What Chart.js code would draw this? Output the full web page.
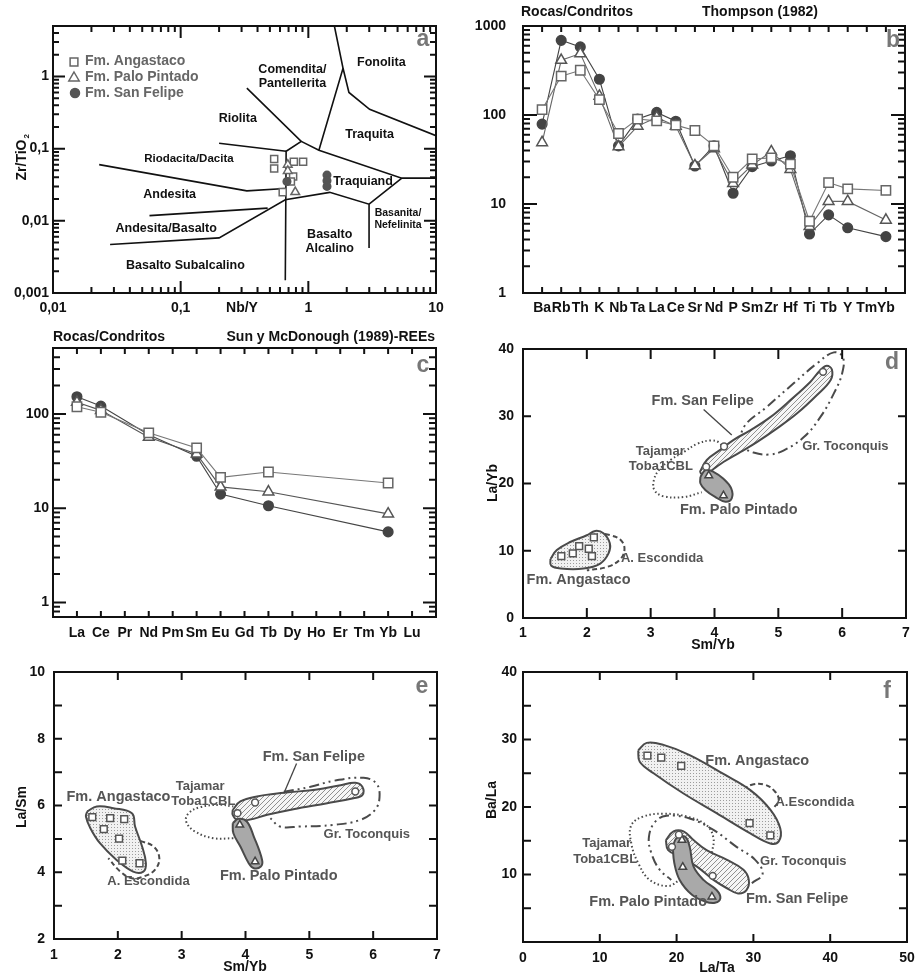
<!DOCTYPE html>
<html>
<head>
<meta charset="utf-8">
<script src="https://cdn.jsdelivr.net/npm/chart.js@4.4.1/dist/chart.umd.min.js"></script>
<style>
  body { margin: 0; background: #fff; width: 924px; height: 979px; position: relative; overflow: hidden; }
  canvas { position: absolute; }
</style>
</head>
<body>
<canvas id="pa" width="462" height="320" style="left:0;top:0"></canvas>
<canvas id="pb" width="462" height="320" style="left:462px;top:0"></canvas>
<canvas id="pc" width="462" height="330" style="left:0;top:320px"></canvas>
<canvas id="pd" width="462" height="336" style="left:462px;top:320px"></canvas>
<canvas id="pe" width="462" height="329" style="left:0;top:650px"></canvas>
<canvas id="pf" width="462" height="329" style="left:462px;top:650px"></canvas>
<script>
// geochem panels a-f

const FONT = '"Liberation Sans", Arial, Helvetica, sans-serif';

// ---- a: Zr/TiO2 vs Nb/Y ----
const aAngNbY = [0.54, 0.54, 0.77, 0.91, 0.76, 0.73, 0.63];
const aAngZrTi = [0.072, 0.053, 0.066, 0.066, 0.041, 0.035, 0.025];
const aPalNbY = [0.69, 0.69, 0.79];
const aPalZrTi = [0.060, 0.049, 0.025];
const aSanNbY = [0.68, 1.40, 1.40, 1.40];
const aSanZrTi = [0.035, 0.043, 0.036, 0.030];
// field boundaries
const aLine1 = [[0.33, 0.69], [0.88, 0.126], [0.67, 0.092], [0.66, 0.0015]];
const aLine2 = [[0.20, 0.119], [0.67, 0.092]];
const aLine3 = [[0.023, 0.060], [0.33, 0.026], [0.66, 0.028]];
const aLine4 = [[0.88, 0.126], [1.21, 0.095], [5.4, 0.039], [10, 0.039]];
const aLine5 = [[1.21, 0.095], [1.87, 1.30], [1.60, 5]];
const aLine6 = [[1.87, 1.30], [2.08, 0.60], [3.02, 0.35], [10, 0.151]];
const aLine7 = [[5.4, 0.039], [2.99, 0.017], [1.47, 0.0248], [0.66, 0.0196], [0.20, 0.0058], [0.028, 0.0047]];
const aLine8 = [[0.057, 0.0118], [0.48, 0.0150]];
const aLine9 = [[2.99, 0.017], [2.99, 0.0042]];

// ---- b: Thompson (1982) spider ----
const bElements = ['Ba', 'Rb', 'Th', 'K', 'Nb', 'Ta', 'La', 'Ce', 'Sr', 'Nd', 'P', 'Sm', 'Zr', 'Hf', 'Ti', 'Tb', 'Y', 'Tm', 'Yb'];
const bAngastaco = [115, 273, 318, 149, 62, 90, 86, 77, 67, 45, 20, 32, 33, 28, 6.4, 17.4, 14.8, null, 14.2];
const bPaloPintado = [49, 412, 490, 163, 44, 75, 94, 75, 27, 42, 17, 27.5, 38.7, 24.5, 5.6, 10.7, 10.7, null, 6.6];
const bSanFelipe = [79, 690, 582, 252, 45, 90, 107, 85, 26.7, 45, 13.2, 26.3, 30.4, 34.9, 4.6, 7.55, 5.4, null, 4.3];

// ---- c: REE, Sun & McDonough (1989) ----
const cElements = ['La', 'Ce', 'Pr', 'Nd', 'Pm', 'Sm', 'Eu', 'Gd', 'Tb', 'Dy', 'Ho', 'Er', 'Tm', 'Yb', 'Lu'];
const cAngastaco = [119, 104, null, 63, null, 43.6, 21.2, null, 24.2, null, null, null, null, 18.5, null];
const cPaloPintado = [133, 109, null, 56.5, null, 37.6, 16.8, null, 14.9, null, null, null, null, 8.7, null];
const cSanFelipe = [152, 121, null, 60, null, 35.5, 14.1, null, 10.6, null, null, null, null, 5.6, null];

// ---- d: La/Yb vs Sm/Yb ----
const dAngSmYb = [1.60, 1.78, 1.88, 2.03, 2.08, 2.11];
const dAngLaYb = [9.2, 9.6, 10.7, 10.3, 9.2, 12.0];
const dSanSmYb = [3.87, 4.15, 5.70];
const dSanLaYb = [22.5, 25.5, 36.6];
const dPalSmYb = [3.91, 4.14];
const dPalLaYb = [21.2, 18.2];
const dFieldSan = [[3.77, 21.7], [3.88, 23.5], [4.09, 25.0], [4.30, 26.5], [4.56, 27.9], [4.88, 29.9], [5.19, 32.4], [5.50, 35.1], [5.66, 36.9], [5.76, 37.5], [5.84, 36.9], [5.82, 35.4], [5.61, 33.2], [5.29, 30.4], [4.98, 28.2], [4.67, 26.2], [4.41, 24.7], [4.14, 23.2], [3.99, 22.2], [3.83, 21.2], [3.77, 21.7]];
const dFieldPal = [[3.78, 21.0], [3.86, 22.0], [3.99, 21.7], [4.14, 20.7], [4.26, 19.3], [4.27, 17.8], [4.17, 17.3], [4.01, 18.0], [3.86, 19.0], [3.78, 20.0], [3.78, 21.0]];
const dFieldAng = [[1.43, 8.8], [1.53, 10.1], [1.74, 11.3], [2.00, 12.3], [2.13, 12.95], [2.26, 12.6], [2.36, 11.1], [2.34, 9.6], [2.21, 8.1], [1.95, 7.35], [1.59, 7.35], [1.44, 7.8], [1.43, 8.8]];
const dEscondida = [[2.16, 12.65], [2.37, 12.3], [2.53, 11.6], [2.59, 10.3], [2.53, 8.8], [2.32, 7.6], [2.00, 7.1]];
const dTajamar = [[4.14, 25.2], [4.07, 26.1], [3.94, 26.4], [3.73, 25.9], [3.52, 24.7], [3.31, 23.5], [3.13, 22.0], [3.05, 20.5], [3.06, 19.0], [3.20, 18.1], [3.52, 18.0], [3.80, 18.7]];
const dToconquis = [[4.41, 25.5], [4.46, 28.4], [4.82, 31.4], [5.24, 34.9], [5.61, 37.9], [5.87, 39.5], [6.01, 38.8], [6.00, 36.4], [5.87, 33.4], [5.66, 29.9], [5.40, 26.9], [5.08, 24.9], [4.85, 24.3], [4.61, 24.6], [4.41, 25.5]];
const dPointer = [[3.83, 31.0], [4.27, 27.2]];

// ---- e: La/Sm vs Sm/Yb ----
const eAngSmYb = [1.60, 1.88, 2.10, 1.78, 2.02, 2.07, 2.34];
const eAngLaSm = [5.65, 5.62, 5.59, 5.29, 5.01, 4.35, 4.27];
const eSanSmYb = [3.875, 4.15, 5.72];
const eSanLaSm = [5.77, 6.09, 6.42];
const ePalSmYb = [3.91, 4.15];
const ePalLaSm = [5.42, 4.32];
const eFieldAng = [[1.52, 5.82], [1.67, 5.97], [1.93, 5.92], [2.22, 5.77], [2.27, 5.37], [2.38, 4.77], [2.44, 4.27], [2.40, 4.02], [2.24, 4.02], [1.98, 4.37], [1.72, 4.87], [1.57, 5.32], [1.50, 5.67], [1.52, 5.82]];
const eFieldSan = [[3.80, 5.87], [3.92, 6.12], [4.18, 6.27], [4.60, 6.38], [5.12, 6.48], [5.49, 6.61], [5.72, 6.68], [5.83, 6.56], [5.83, 6.31], [5.69, 6.22], [5.28, 6.07], [4.75, 5.89], [4.34, 5.72], [4.05, 5.57], [3.87, 5.57], [3.80, 5.72], [3.80, 5.87]];
const eFieldPal = [[3.80, 5.47], [3.89, 5.60], [4.02, 5.52], [4.13, 5.07], [4.26, 4.37], [4.24, 4.17], [4.13, 4.12], [4.05, 4.27], [3.92, 4.77], [3.81, 5.17], [3.80, 5.47]];
const eEscondida = [[2.35, 4.94], [2.56, 4.77], [2.65, 4.42], [2.58, 4.07], [2.40, 3.87], [2.22, 3.82], [2.04, 4.02], [1.85, 4.42]];
const eTajamar = [[3.81, 5.02], [3.50, 5.02], [3.21, 5.22], [3.07, 5.52], [3.11, 5.77], [3.29, 5.95], [3.60, 6.02], [3.81, 5.97]];
const eToconquis = [[4.60, 6.41], [5.02, 6.56], [5.38, 6.74], [5.85, 6.83], [6.05, 6.66], [6.10, 6.26], [6.03, 5.87], [5.80, 5.57], [5.38, 5.42], [4.86, 5.37], [4.54, 5.37], [4.39, 5.62]];
const ePointer = [[4.80, 7.26], [4.60, 6.36]];

// ---- f: Ba/La vs La/Ta ----
const fAngLaTa = [16.2, 18.0, 20.6, 29.5, 32.2];
const fAngBaLa = [27.6, 27.3, 26.1, 17.6, 15.8];
const fPalLaTa = [20.7, 20.8, 24.6];
const fPalBaLa = [15.1, 11.1, 6.7];
const fSanLaTa = [19.4, 20.3, 24.7];
const fSanBaLa = [14.1, 15.9, 9.8];
const fFieldAng = [[15.0, 28.4], [16.1, 29.5], [18.3, 29.2], [21.7, 27.7], [26.1, 24.9], [29.6, 22.5], [32.2, 19.6], [33.5, 16.8], [33.3, 14.9], [32.2, 14.6], [29.6, 16.1], [25.2, 19.1], [20.9, 22.0], [17.0, 25.0], [15.2, 26.7], [15.0, 28.4]];
const fFieldSan = [[18.6, 15.1], [19.6, 16.4], [20.9, 16.4], [22.2, 15.1], [23.9, 13.6], [26.5, 12.2], [28.7, 10.7], [29.4, 9.2], [29.1, 7.7], [28.0, 7.2], [26.5, 8.0], [24.8, 9.2], [22.6, 11.2], [20.4, 12.7], [18.9, 13.6], [18.6, 15.1]];
const fFieldPal = [[19.5, 14.1], [20.0, 15.4], [21.1, 15.6], [21.7, 14.1], [22.2, 11.2], [23.5, 9.2], [25.2, 7.7], [25.7, 6.5], [25.0, 5.8], [23.7, 6.0], [22.0, 7.0], [20.4, 9.2], [19.7, 11.7], [19.5, 14.1]];
const fEscondida = [[28.7, 22.6], [29.8, 23.3], [31.5, 23.3], [32.8, 22.3], [33.3, 21.0], [32.6, 19.8]];
const fTajamar = [[24.6, 13.2], [24.8, 15.4], [23.9, 17.3], [21.3, 18.6], [18.3, 19.0], [15.7, 18.6], [14.1, 17.3], [14.1, 14.6], [15.0, 11.7], [16.5, 9.2], [18.9, 8.3], [20.4, 9.2]];
const fToconquis = [[29.8, 8.7], [31.2, 10.1], [30.2, 12.2], [27.8, 14.1], [24.8, 16.6], [21.7, 18.3], [18.7, 18.7], [17.2, 17.8], [16.4, 15.6], [16.7, 13.2], [17.8, 10.7], [19.3, 9.2]];

// helpers
function xy(xs, ys) {
  return xs.map((x, i) => ({ x: x, y: ys[i] })).filter(p => p.y !== null);
}
function poly(pairs) {
  return pairs.map(p => ({ x: p[0], y: p[1] }));
}
function seq(vals) {
  return vals.map((v, i) => ({ x: i, y: v })).filter(p => p.y !== null);
}
function decimalComma(v) {
  return String(v).replace('.', ',');
}

function makePattern(kind) {
  const c = document.createElement('canvas');
  const g = c.getContext('2d');
  if (kind === 'stipple') {
    c.width = 3; c.height = 3;
    g.fillStyle = '#f1f1f1'; g.fillRect(0, 0, 3, 3);
    g.fillStyle = '#9c9c9c'; g.fillRect(0, 0, 1, 1);
  } else {
    c.width = 5; c.height = 5;
    g.fillStyle = '#f6f6f6'; g.fillRect(0, 0, 5, 5);
    g.strokeStyle = '#858585'; g.lineWidth = 0.9;
    g.beginPath();
    g.moveTo(-1, 6); g.lineTo(6, -1);
    g.moveTo(-1, 1); g.lineTo(1, -1);
    g.moveTo(4, 6); g.lineTo(6, 4);
    g.stroke();
  }
  return g.createPattern(c, 'repeat');
}
const STIPPLE = makePattern('stipple');
const HATCH = makePattern('hatch');

// marker styles
function marks(data, shape, r, fill, stroke) {
  return {
    data: data, showLine: false, pointStyle: shape, pointRadius: r,
    pointBackgroundColor: fill, pointBorderColor: stroke, pointBorderWidth: 1.5
  };
}
function lineSet(pairs, color, width, dash) {
  return {
    data: poly(pairs), showLine: true, pointRadius: 0, borderColor: color,
    borderWidth: width, borderDash: dash || [], tension: 0, fill: false
  };
}
function field(pairs, fillColor, dash) {
  return {
    data: poly(pairs), showLine: true, pointRadius: 0, tension: 0.4,
    borderColor: '#4a4a4a', borderWidth: 2, borderDash: dash || [],
    fill: fillColor ? 'shape' : false, backgroundColor: fillColor || 'transparent'
  };
}
function series(data, color, shape, r, fill, stroke) {
  return {
    data: data, showLine: true, borderColor: color, borderWidth: 1.1, tension: 0,
    pointStyle: shape, pointRadius: r, pointBackgroundColor: fill,
    pointBorderColor: stroke, pointBorderWidth: 1.5
  };
}

// inward ticks on all four sides + frame
function tickValues(scale, minor) {
  const out = [];
  if (scale.type === 'logarithmic') {
    const lo = Math.floor(Math.log10(scale.min)), hi = Math.ceil(Math.log10(scale.max));
    for (let d = lo; d <= hi; d++) {
      for (let k = 1; k <= 9; k++) {
        if (k > 1 && !minor) continue;
        const v = k * Math.pow(10, d);
        if (v > scale.min * 1.0001 && v < scale.max * 0.9999) out.push({ v: v, major: k === 1 });
      }
    }
  } else {
    scale.ticks.forEach(t => {
      if (t.value > scale.min && t.value < scale.max) out.push({ v: t.value, major: true });
    });
  }
  return out;
}

function framePlugin(cfg) {
  return {
    id: 'frame',
    afterDatasetsDraw(chart) {
      const ctx = chart.ctx, a = chart.chartArea;
      ctx.save();
      ctx.strokeStyle = '#111';
      ctx.lineWidth = 2;
      ctx.beginPath();
      ['x', 'y'].forEach(k => {
        const s = chart.scales[k], o = cfg[k];
        tickValues(s, o.minor).forEach(t => {
          const len = t.major ? o.len : o.minorLen;
          const p = s.getPixelForValue(t.v);
          if (k === 'x') {
            ctx.moveTo(p, a.bottom); ctx.lineTo(p, a.bottom - len);
            ctx.moveTo(p, a.top); ctx.lineTo(p, a.top + len);
          } else {
            ctx.moveTo(a.left, p); ctx.lineTo(a.left + len, p);
            ctx.moveTo(a.right, p); ctx.lineTo(a.right - len, p);
          }
        });
      });
      ctx.stroke();
      ctx.strokeRect(a.left, a.top, a.right - a.left, a.bottom - a.top);
      ctx.restore();
    }
  };
}

function drawMark(ctx, shape, x, y, r) {
  ctx.beginPath();
  if (shape === 'rect') {
    ctx.rect(x - r * 0.707, y - r * 0.707, r * 1.414, r * 1.414);
  } else if (shape === 'triangle') {
    ctx.moveTo(x, y - r);
    ctx.lineTo(x + r * 0.866, y + r * 0.5);
    ctx.lineTo(x - r * 0.866, y + r * 0.5);
    ctx.closePath();
  } else {
    ctx.arc(x, y, r, 0, Math.PI * 2);
  }
  ctx.fill();
  ctx.stroke();
}

// text labels, positioned in data units (x/y) or canvas pixels (px/py)
function notesPlugin(items) {
  return {
    id: 'notes',
    afterDatasetsDraw(chart) {
      const ctx = chart.ctx, xs = chart.scales.x, ys = chart.scales.y;
      items.forEach(n => {
        const px = n.x !== undefined ? xs.getPixelForValue(n.x) : n.px;
        const py = n.y !== undefined ? ys.getPixelForValue(n.y) : n.py;
        ctx.save();
        ctx.translate(px, py);
        if (n.rot) ctx.rotate(n.rot);
        if (n.mark) {
          ctx.fillStyle = n.markFill;
          ctx.strokeStyle = n.color;
          ctx.lineWidth = 1.5;
          drawMark(ctx, n.mark, 0, 0, n.r);
        } else {
          const size = n.size || 12.5;
          ctx.font = 'bold ' + size + 'px ' + FONT;
          ctx.fillStyle = n.color || '#111';
          ctx.textAlign = n.align || 'center';
          ctx.textBaseline = 'middle';
          ctx.fillText(n.t, 0, 0);
          if (n.sub) {
            const w = ctx.measureText(n.t).width;
            const off = ctx.textAlign === 'center' ? w / 2 : 0;
            ctx.font = 'bold ' + Math.round(size * 0.6) + 'px ' + FONT;
            ctx.textAlign = 'left';
            ctx.fillText(n.sub, off + 1, size * 0.35);
          }
        }
        ctx.restore();
      });
    }
  };
}

function tickFont(size) {
  return { family: FONT, size: size || 14, weight: 'bold' };
}

function buildChart(id, m, xScale, yScale, datasets, notes, frame) {
  xScale.afterFit = s => { s.height = m.bottom; };
  yScale.afterFit = s => { s.width = m.left; };
  [xScale, yScale].forEach(s => {
    s.grid = { display: false, drawTicks: false };
    s.border = { display: false };
    s.ticks = Object.assign({ autoSkip: false, maxRotation: 0, color: '#111', font: tickFont() }, s.ticks);
  });
  return new Chart(document.getElementById(id), {
    type: 'scatter',
    data: { datasets: datasets },
    options: {
      responsive: false,
      animation: false,
      layout: { autoPadding: false, padding: { top: m.top, right: m.right, left: 0, bottom: 0 } },
      scales: { x: xScale, y: yScale },
      plugins: { legend: { display: false }, tooltip: { enabled: false } }
    },
    plugins: [framePlugin(frame), notesPlugin(notes)]
  });
}

const GREY_TXT = '#555';
const LETTER = { size: 23, color: '#777' };

// ---------- panel a ----------
buildChart('pa', { left: 53, top: 26, right: 26, bottom: 27 },
  {
    type: 'logarithmic', min: 0.01, max: 10,
    afterBuildTicks: s => { s.ticks = [0.01, 0.1, 1, 10].map(v => ({ value: v })); },
    ticks: { padding: 7, callback: v => decimalComma(v) }
  },
  {
    type: 'logarithmic', min: 0.001, max: 5,
    afterBuildTicks: s => { s.ticks = [0.001, 0.01, 0.1, 1].map(v => ({ value: v })); },
    ticks: { padding: 4, callback: v => decimalComma(v) }
  },
  [
    marks(xy(aSanNbY, aSanZrTi), 'circle', 3.8, '#555', '#555'),
    marks(xy(aPalNbY, aPalZrTi), 'triangle', 5, '#fff', '#666'),
    marks(xy(aAngNbY, aAngZrTi), 'rect', 5, '#fff', '#666'),
    lineSet(aLine1, '#111', 1.6), lineSet(aLine2, '#111', 1.6), lineSet(aLine3, '#111', 1.6),
    lineSet(aLine4, '#111', 1.6), lineSet(aLine5, '#111', 1.6), lineSet(aLine6, '#111', 1.6),
    lineSet(aLine7, '#111', 1.6), lineSet(aLine8, '#111', 1.6), lineSet(aLine9, '#111', 1.6)
  ],
  [
    { t: 'Comendita/', x: 0.75, y: 1.26 }, { t: 'Pantellerita', x: 0.75, y: 0.81 },
    { t: 'Fonolita', x: 3.73, y: 1.56 }, { t: 'Riolita', x: 0.28, y: 0.265 },
    { t: 'Traquita', x: 3.02, y: 0.156 }, { t: 'Riodacita/Dacita', x: 0.116, y: 0.0725, size: 11.5 },
    { t: 'Traquiand', x: 2.68, y: 0.035 }, { t: 'Andesita', x: 0.082, y: 0.023 },
    { t: 'Basanita/', x: 5.04, y: 0.0128, size: 10.5 }, { t: 'Nefelinita', x: 5.04, y: 0.0086, size: 10.5 },
    { t: 'Andesita/Basalto', x: 0.077, y: 0.0079 },
    { t: 'Basalto', x: 1.47, y: 0.0064 }, { t: 'Alcalino', x: 1.47, y: 0.0041 },
    { t: 'Basalto Subalcalino', x: 0.109, y: 0.0024 },
    { mark: 'rect', px: 74, py: 62, r: 5.5, color: '#666', markFill: '#fff' },
    { mark: 'triangle', px: 74, py: 78, r: 6, color: '#666', markFill: '#fff' },
    { mark: 'circle', px: 75, py: 93, r: 4.5, color: '#555', markFill: '#555' },
    { t: 'Fm. Angastaco', px: 85, py: 61, align: 'left', size: 14, color: '#666' },
    { t: 'Fm. Palo Pintado', px: 85, py: 77, align: 'left', size: 14, color: '#666' },
    { t: 'Fm. San Felipe', px: 85, py: 93, align: 'left', size: 14, color: '#666' },
    { t: 'a', px: 423, py: 40, size: LETTER.size, color: LETTER.color },
    { t: 'Nb/Y', px: 242, py: 308, size: 14 },
    { t: 'Zr/TiO', sub: '2', px: 22, py: 160, size: 14, rot: -Math.PI / 2 }
  ],
  { x: { len: 12, minorLen: 6, minor: true }, y: { len: 12, minorLen: 6, minor: true } }
);

// ---------- panel b ----------
buildChart('pb', { left: 61, top: 26, right: 19, bottom: 27 },
  {
    type: 'linear', min: -1, max: 19,
    ticks: { stepSize: 1, padding: 7, callback: v => bElements[v] || '' }
  },
  {
    type: 'logarithmic', min: 1, max: 1000,
    afterBuildTicks: s => { s.ticks = [1, 10, 100, 1000].map(v => ({ value: v })); },
    ticks: { padding: 17, callback: v => String(v) }
  },
  [
    series(seq(bAngastaco), '#777', 'rect', 6.6, '#fff', '#666'),
    series(seq(bPaloPintado), '#666', 'triangle', 6.2, '#fff', '#555'),
    series(seq(bSanFelipe), '#444', 'circle', 4.8, '#444', '#444')
  ],
  [
    { t: 'Rocas/Condritos', px: 59, py: 12, align: 'left', size: 14 },
    { t: 'Thompson (1982)', px: 240, py: 12, align: 'left', size: 14 },
    { t: 'b', px: 431, py: 41, size: LETTER.size, color: LETTER.color }
  ],
  { x: { len: 6, minorLen: 6, minor: false }, y: { len: 14, minorLen: 7, minor: true } }
);

// ---------- panel c ----------
buildChart('pc', { left: 53, top: 28, right: 26, bottom: 33 },
  {
    type: 'linear', min: -1, max: 15,
    ticks: { stepSize: 1, padding: 8, callback: v => cElements[v] || '' }
  },
  {
    type: 'logarithmic', min: 0.71, max: 500,
    afterBuildTicks: s => { s.ticks = [1, 10, 100].map(v => ({ value: v })); },
    ticks: { padding: 4, callback: v => String(v) }
  },
  [
    series(seq(cAngastaco), '#777', 'rect', 6.6, '#fff', '#666'),
    series(seq(cPaloPintado), '#555', 'triangle', 6.2, '#fff', '#555'),
    series(seq(cSanFelipe), '#444', 'circle', 4.8, '#444', '#444')
  ],
  [
    { t: 'Rocas/Condritos', px: 53, py: 17, align: 'left', size: 14 },
    { t: 'Sun y McDonough (1989)-REEs', px: 435, py: 17, align: 'right', size: 14 },
    { t: 'c', px: 423, py: 46, size: LETTER.size, color: LETTER.color }
  ],
  { x: { len: 6, minorLen: 6, minor: false }, y: { len: 13, minorLen: 7, minor: true } }
);

// ---------- panel d ----------
buildChart('pd', { left: 61, top: 29, right: 18, bottom: 38 },
  { type: 'linear', min: 1, max: 7, ticks: { stepSize: 1, padding: 7 } },
  { type: 'linear', min: 0, max: 40, ticks: { stepSize: 10, padding: 9 } },
  [
    marks(xy(dAngSmYb, dAngLaYb), 'rect', 4.8, '#fff', '#555'),
    marks(xy(dSanSmYb, dSanLaYb), 'circle', 3.4, '#fff', '#555'),
    marks(xy(dPalSmYb, dPalLaYb), 'triangle', 4.4, '#fff', '#444'),
    lineSet(dPointer, '#444', 1.3),
    field(dFieldPal, '#a9a9a9'),
    field(dFieldSan, HATCH),
    field(dFieldAng, STIPPLE),
    field(dEscondida, null, [5, 3]),
    field(dTajamar, null, [1.5, 2.5]),
    field(dToconquis, null, [10, 4, 2, 4, 2, 4])
  ],
  [
    { t: 'Fm. San Felipe', x: 3.815, y: 32.2, size: 14.5, color: GREY_TXT },
    { t: 'Tajamar', x: 3.15, y: 24.7, size: 13, color: GREY_TXT },
    { t: 'Toba1CBL', x: 3.16, y: 22.5, size: 13, color: GREY_TXT },
    { t: 'Gr. Toconquis', x: 6.05, y: 25.5, size: 13, color: GREY_TXT },
    { t: 'Fm. Palo Pintado', x: 4.38, y: 16.1, size: 14.5, color: GREY_TXT },
    { t: 'A. Escondida', x: 3.18, y: 8.93, size: 13, color: GREY_TXT },
    { t: 'Fm. Angastaco', x: 1.87, y: 5.71, size: 14.5, color: GREY_TXT },
    { t: 'd', px: 430, py: 43, size: LETTER.size, color: LETTER.color },
    { t: 'Sm/Yb', px: 251, py: 325, size: 14 },
    { t: 'La/Yb', px: 31, py: 163, size: 14, rot: -Math.PI / 2 }
  ],
  { x: { len: 10, minorLen: 5, minor: false }, y: { len: 8, minorLen: 5, minor: false } }
);

// ---------- panel e ----------
buildChart('pe', { left: 54, top: 22, right: 25, bottom: 40 },
  { type: 'linear', min: 1, max: 7, ticks: { stepSize: 1, padding: 8 } },
  {
    type: 'linear', min: 2, max: 10,
    ticks: { stepSize: 1, padding: 9, callback: v => (v % 2 === 0 ? String(v) : '') }
  },
  [
    marks(xy(eAngSmYb, eAngLaSm), 'rect', 4.8, '#fff', '#555'),
    marks(xy(eSanSmYb, eSanLaSm), 'circle', 3.4, '#fff', '#555'),
    marks(xy(ePalSmYb, ePalLaSm), 'triangle', 4.4, '#fff', '#444'),
    lineSet(ePointer, '#444', 1.3),
    field(eFieldPal, '#a9a9a9'),
    field(eFieldSan, HATCH),
    field(eFieldAng, STIPPLE),
    field(eEscondida, null, [5, 3]),
    field(eTajamar, null, [1.5, 2.5]),
    field(eToconquis, null, [10, 4, 2, 4, 2, 4])
  ],
  [
    { t: 'Fm. San Felipe', x: 5.07, y: 7.44, size: 14.5, color: GREY_TXT },
    { t: 'Tajamar', x: 3.29, y: 6.56, size: 13, color: GREY_TXT },
    { t: 'Toba1CBL', x: 3.34, y: 6.12, size: 13, color: GREY_TXT },
    { t: 'Fm. Angastaco', x: 2.01, y: 6.26, size: 14.5, color: GREY_TXT },
    { t: 'A. Escondida', x: 2.48, y: 3.72, size: 13, color: GREY_TXT },
    { t: 'Gr. Toconquis', x: 5.90, y: 5.12, size: 13, color: GREY_TXT },
    { t: 'Fm. Palo Pintado', x: 4.52, y: 3.89, size: 14.5, color: GREY_TXT },
    { t: 'e', px: 422, py: 37, size: LETTER.size, color: LETTER.color },
    { t: 'Sm/Yb', px: 245, py: 317, size: 14 },
    { t: 'La/Sm', px: 22, py: 157, size: 14, rot: -Math.PI / 2 }
  ],
  { x: { len: 8, minorLen: 5, minor: false }, y: { len: 8, minorLen: 5, minor: false } }
);

// ---------- panel f ----------
buildChart('pf', { left: 61, top: 22, right: 17, bottom: 37 },
  { type: 'linear', min: 0, max: 50, ticks: { stepSize: 10, padding: 8 } },
  {
    type: 'linear', min: 0, max: 40,
    ticks: { stepSize: 5, padding: 6, callback: v => (v % 10 === 0 && v > 0 ? String(v) : '') }
  },
  [
    marks(xy(fAngLaTa, fAngBaLa), 'rect', 4.8, '#fff', '#555'),
    marks(xy(fSanLaTa, fSanBaLa), 'circle', 3.4, '#fff', '#555'),
    marks(xy(fPalLaTa, fPalBaLa), 'triangle', 4.4, '#fff', '#444'),
    field(fFieldPal, '#a9a9a9'),
    field(fFieldSan, HATCH),
    field(fFieldAng, STIPPLE),
    field(fEscondida, null, [5, 3]),
    field(fTajamar, null, [1.5, 2.5]),
    field(fToconquis, null, [10, 4, 2, 4, 2, 4])
  ],
  [
    { t: 'Fm. Angastaco', x: 30.5, y: 26.8, size: 14.5, color: GREY_TXT },
    { t: 'A.Escondida', x: 38.0, y: 20.7, size: 13, color: GREY_TXT },
    { t: 'Tajamar', x: 10.9, y: 14.6, size: 13, color: GREY_TXT },
    { t: 'Toba1CBL', x: 10.7, y: 12.3, size: 13, color: GREY_TXT },
    { t: 'Gr. Toconquis', x: 36.5, y: 12.0, size: 13, color: GREY_TXT },
    { t: 'Fm. Palo Pintado', x: 16.3, y: 5.9, size: 14.5, color: GREY_TXT },
    { t: 'Fm. San Felipe', x: 35.7, y: 6.4, size: 14.5, color: GREY_TXT },
    { t: 'f', px: 425, py: 42, size: LETTER.size, color: LETTER.color },
    { t: 'La/Ta', px: 255, py: 318, size: 14 },
    { t: 'Ba/La', px: 30, py: 150, size: 14, rot: -Math.PI / 2 }
  ],
  { x: { len: 8, minorLen: 5, minor: false }, y: { len: 8, minorLen: 5, minor: false } }
);
</script>
</body>
</html>
